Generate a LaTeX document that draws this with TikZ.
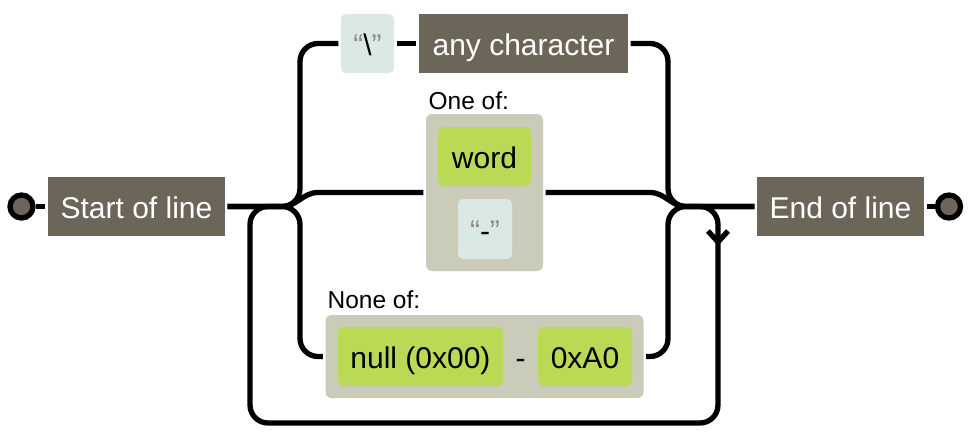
\documentclass[tikz,border=0pt]{standalone}
\usepackage{fontspec}
\setmainfont{Liberation Sans}
\definecolor{anchorfill}{HTML}{6B6659}
\definecolor{literalfill}{HTML}{DAE9E5}
\definecolor{escapefill}{HTML}{BADA55}
\definecolor{setfill}{HTML}{CBCBBA}
\definecolor{quotegray}{HTML}{908C83}

\begin{document}
\begin{tikzpicture}[x=1pt,y=-1pt,line width=5.3pt,
    boxtext/.style={inner sep=0pt,text height=24pt,text depth=0pt,font=\fontsize{30}{35}\selectfont},
    anchorbox/.style={boxtext,fill=anchorfill,text=white,minimum height=59pt},
    literalbox/.style={boxtext,fill=literalfill,rounded corners=5pt,minimum height=59pt},
    escapebox/.style={boxtext,fill=escapefill,rounded corners=6pt,minimum height=59pt},
    setbox/.style={fill=setfill,rounded corners=6pt,inner sep=0pt},
    setlabel/.style={anchor=base west,inner sep=0pt,font=\fontsize{24.5}{28}\selectfont},
    enddot/.style={circle,draw,fill=anchorfill,minimum size=23pt,inner sep=0pt},
    rail/.style={rounded corners=18pt}]
        \useasboundingbox (0,0) rectangle (978,445);

        \node[enddot] (startdot) at (21.5,206.5) {};
        \node[anchorbox,minimum width=177pt] (startbox) at (136.5,206.5) {Start of line};
        \node[anchorbox,minimum width=167pt] (endbox) at (840.5,206.5) {End of line};
        \node[enddot] (stopdot) at (949,206.5) {};

        \node[literalbox,minimum width=53pt] (bslash) at (367.5,43.5) {\textcolor{quotegray}{“}\textbackslash\textcolor{quotegray}{”}};
        \node[anchorbox,minimum width=209pt] (anychar) at (523.5,43.5) {any character};

        \node[setlabel] (oneoflabel) at (426,109) {One of:};
        \node[setbox,minimum width=117pt,minimum height=157pt] (oneof) at (484.5,192.5) {};
        \node[escapebox,minimum width=93pt] (word) at (484.5,156.5) {word};
        \node[literalbox,minimum width=54pt,minimum height=60pt] (hyphenlit) at (485,229) {\textcolor{quotegray}{“}-\textcolor{quotegray}{”}};

        \node[setlabel] (noneoflabel) at (325,308) {None of:};
        \node[setbox,minimum width=318pt,minimum height=83pt] (noneof) at (484.5,356.5) {};
        \node[escapebox,minimum width=165pt] (nullchar) at (420.5,356.5) {null (0x00)};
        \node[boxtext] (rangedash) at (520.5,356.5) {-};
        \node[escapebox,minimum width=94pt] (upperchar) at (585,356.5) {0xA0};

        \coordinate (split) at (282,206.5);
        \coordinate (join) at (686,206.5);
        \coordinate (midL) at (318,192.5);
        \coordinate (midR) at (650,192.5);
        \coordinate (railL) at (300,0);
        \coordinate (railR) at (668,0);
        \coordinate (loopL) at (250,0);
        \coordinate (loopR) at (718,423);
        \coordinate (loopmark) at (718,242);

        \draw (startdot) -- (startbox);
        \draw (endbox) -- (stopdot);
        \draw[rail] (startbox.east) -| (railL |- bslash.west) -- (bslash.west);
        \draw (bslash) -- (anychar);
        \draw[rail] (anychar.east) -| (railR |- endbox.west) -- (endbox.west);
        \draw (startbox.east) -- (split) to[out=0,in=180] (midL) -- (oneof.west);
        \draw (oneof.east) -- (midR) to[out=0,in=180] (join) -- (endbox.west);
        \draw[rail] (startbox.east) -| (railL |- noneof.west) -- (noneof.west);
        \draw[rail] (noneof.east) -| (railR |- endbox.west) -- (endbox.west);
        \draw[rail] (join) -| (loopR) -| (loopL |- split) -- (split);
        \draw (loopmark) ++(-10,-11) -- (loopmark) -- ++(10,-11);
    \end{tikzpicture}
\end{document}
